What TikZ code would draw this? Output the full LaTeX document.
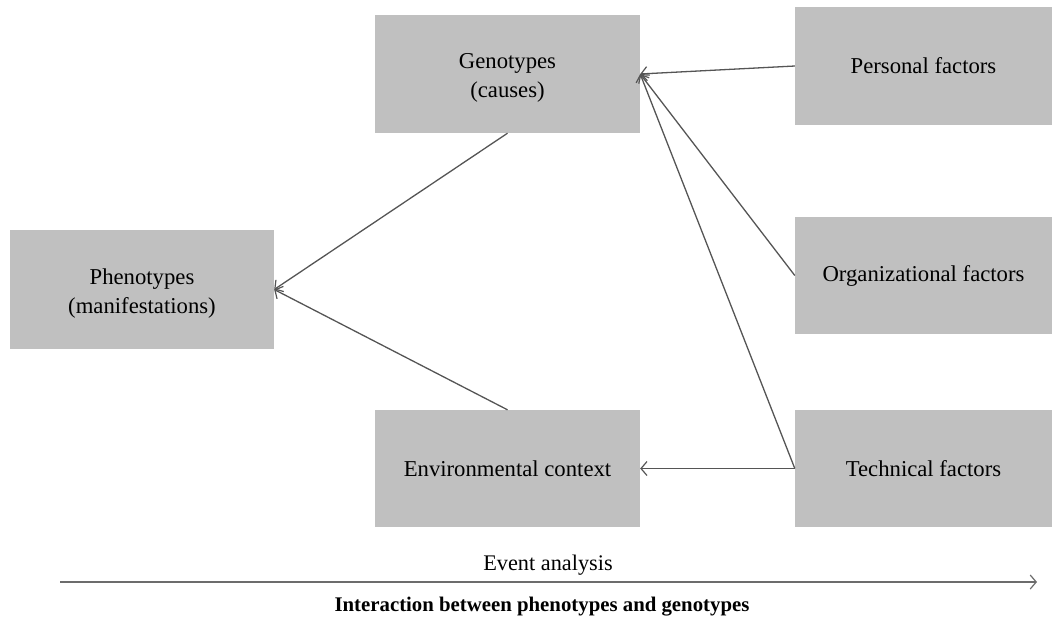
\documentclass[tikz,border=0pt]{standalone}
\usepackage{fontspec}
\setmainfont{Liberation Serif}
\usetikzlibrary{arrows.meta}
\begin{document}
\begin{tikzpicture}[x=1pt,y=-1pt,
  boxfont/.style={font=\fontsize{22.7}{29}\selectfont},
  box/.style={rectangle, fill=boxgray, draw=none, align=center,
    inner sep=0pt, boxfont},
  twoline/.style={label={[align=center, boxfont, yshift=-4pt]center:#1}},
  link/.style={draw=linegray, line width=1.3pt,
    -{Straight Barb[length=6pt,width=14pt,line width=1.2pt]}},
]
\definecolor{boxgray}{HTML}{C0C0C0}
\definecolor{linegray}{HTML}{555555}
\useasboundingbox (0,0) rectangle (1052,625);

% left column
\node[box, minimum width=264pt, minimum height=119pt,
  twoline={Phenotypes\\(manifestations)}] (pheno) at (142,289.5) {};

% middle column
\node[box, minimum width=265pt, minimum height=118pt,
  twoline={Genotypes\\(causes)}] (geno) at (507.5,74) {};
\node[box, minimum width=265pt, minimum height=117pt] (env) at (507.5,468.5)
  {Environmental context};

% right column
\node[box, minimum width=257pt, minimum height=118pt] (pers) at (923.5,66)
  {Personal factors};
\node[box, minimum width=257pt, minimum height=117pt] (org) at (923.5,275.5)
  {Organizational factors};
\node[box, minimum width=257pt, minimum height=117pt] (tech) at (923.5,468.5)
  {Technical factors};

% influences
\draw[link] (pers.west) -- (geno.east);
\draw[link] (org.west) -- (geno.east);
\draw[link] (tech.west) -- (geno.east);
\draw[link] (tech.west) -- (env.east);
\draw[link] (geno.south) -- (pheno.east);
\draw[link] (env.north) -- (pheno.east);

% time axis
\coordinate (axisstart) at (60,582);
\coordinate (axisend) at (1037,582);
\draw[link, draw=gray!85!black, line width=1.6pt] (axisstart) -- (axisend);
\node[font=\fontsize{22.3}{26}\selectfont] (evt) at (548,565) {Event analysis};
\node[font=\bfseries\fontsize{20.8}{24}\selectfont] (title) at (542,607)
  {Interaction between phenotypes and genotypes};
\end{tikzpicture}
\end{document}
